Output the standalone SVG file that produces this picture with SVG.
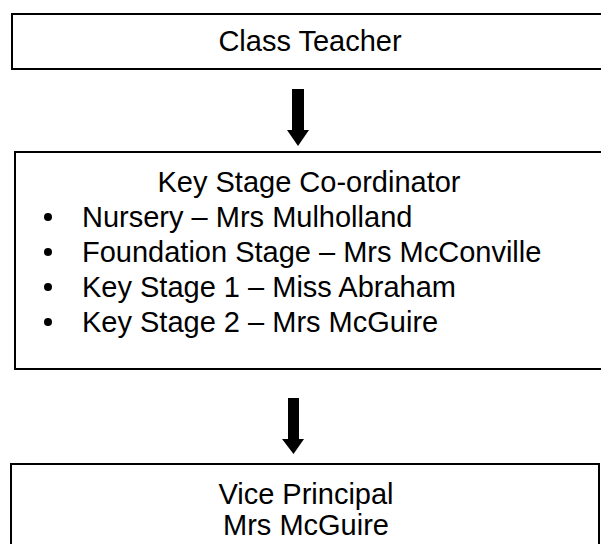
<svg xmlns="http://www.w3.org/2000/svg" width="601" height="544" viewBox="0 0 601 544">
<style>
.box{fill:#fff;stroke:#000;stroke-width:2}
text{font-family:"Liberation Sans",Arial,sans-serif;font-size:29px;fill:#000}
.c{text-anchor:middle}
.arrow{fill:#000}
</style>
<rect width="601" height="544" fill="#fff"/>
<g id="class-teacher">
<rect class="box" x="12" y="14" width="600" height="55"/>
<text class="c" x="310" y="51">Class Teacher</text>
</g>
<g id="key-stage-coordinator">
<rect class="box" x="15" y="152" width="600" height="217"/>
<text class="c" x="309" y="192">Key Stage Co-ordinator</text>
<circle cx="48" cy="217" r="4"/>
<text x="82" y="227">Nursery – Mrs Mulholland</text>
<circle cx="48" cy="252" r="4"/>
<text x="82" y="262">Foundation Stage – Mrs McConville</text>
<circle cx="48" cy="287" r="4"/>
<text x="82" y="297">Key Stage 1 – Miss Abraham</text>
<circle cx="48" cy="322" r="4"/>
<text x="82" y="332">Key Stage 2 – Mrs McGuire</text>
</g>
<g id="vice-principal">
<rect class="box" x="11" y="464" width="588" height="100"/>
<text class="c" x="306" y="504">Vice Principal</text>
<text class="c" x="306" y="535">Mrs McGuire</text>
</g>
<g id="connectors">
<polygon class="arrow" points="292,89 304,89 304,130 309,130 298,146 287,130 292,130"/>
<polygon class="arrow" points="288,398 299,398 299,439 304,439 293.5,454 282,439 288,439"/>
</g>
</svg>
